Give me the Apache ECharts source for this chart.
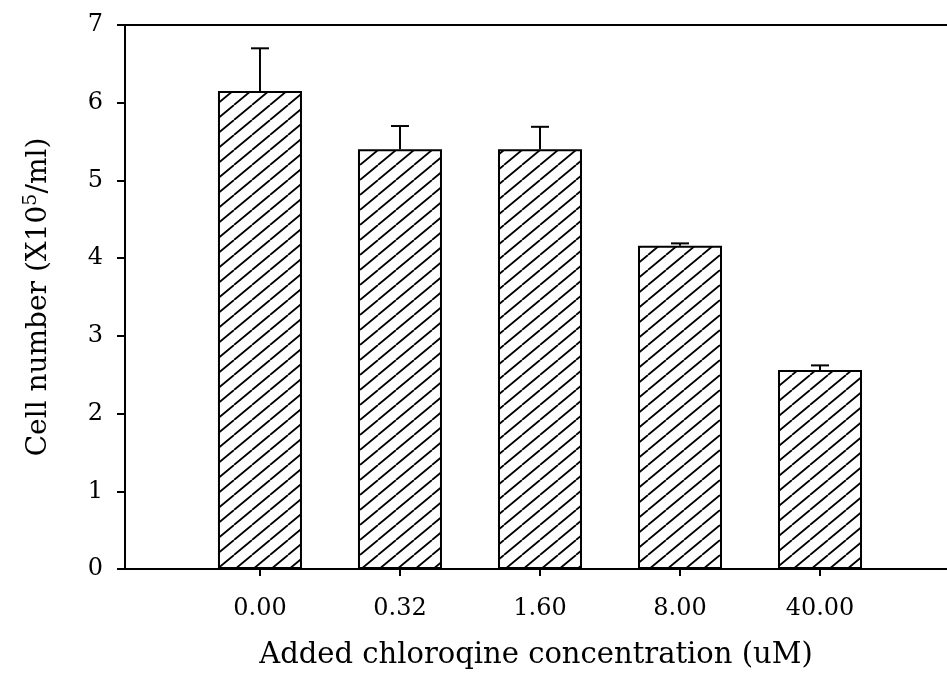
<!DOCTYPE html>
<html>
<head>
<meta charset="utf-8">
<script src="https://cdn.jsdelivr.net/npm/echarts@6/dist/echarts.min.js"></script>
<style>
  html, body { margin: 0; padding: 0; background: #fff; }
  #chart { width: 947px; height: 682px; }
</style>
</head>
<body>
<div id="chart"></div>
<script>
var categories = ['0.00', '0.32', '1.60', '8.00', '40.00'];
var positions = [1, 2, 3, 4, 5];
var cellNumber = [6.15, 5.40, 5.40, 4.16, 2.56];
var errorTop = [6.70, 5.70, 5.69, 4.19, 2.62];
var yTicks = [0, 1, 2, 3, 4, 5, 6, 7];

var FONT = 'DejaVu Serif';

// hatch tile: diagonal lines from lower left to upper right
var tile = document.createElement('canvas');
tile.width = 18;
tile.height = 15;
var ctx = tile.getContext('2d');
ctx.strokeStyle = '#000';
ctx.lineWidth = 1.8;
ctx.beginPath();
ctx.moveTo(-18, 15); ctx.lineTo(0, 0);
ctx.moveTo(0, 15); ctx.lineTo(18, 0);
ctx.moveTo(18, 15); ctx.lineTo(36, 0);
ctx.stroke();

var barData = positions.map(function (p, i) { return [p, cellNumber[i]]; });
var errData = positions.map(function (p, i) { return [p, cellNumber[i], errorTop[i]]; });

var chart = echarts.init(document.getElementById('chart'));
var option = {
    animation: false,
    backgroundColor: '#fff',
    grid: { left: 125, right: 0, top: 25, bottom: 113 },
    xAxis: [{
        type: 'value',
        min: 0.036,
        max: 5.907,
        position: 'bottom',
        splitLine: { show: false },
        axisLine: { lineStyle: { color: '#000', width: 2 } },
        axisTick: {
            customValues: positions,
            length: 7,
            lineStyle: { color: '#000', width: 2 }
        },
        axisLabel: {
            customValues: positions,
            formatter: function (v) { return categories[Math.round(v) - 1] || ''; },
            margin: 28,
            color: '#000',
            fontFamily: FONT,
            fontSize: 24
        },
        name: 'Added chloroqine concentration (uM)',
        nameLocation: 'middle',
        nameGap: 72,
        nameTextStyle: { color: '#000', fontFamily: FONT, fontSize: 29 }
    }, {
        type: 'value',
        min: 0.036,
        max: 5.907,
        position: 'top',
        splitLine: { show: false },
        axisLine: { show: true, lineStyle: { color: '#000', width: 2 } },
        axisTick: { show: false },
        axisLabel: { show: false }
    }],
    yAxis: {
        type: 'value',
        min: 0,
        max: 7,
        interval: 1,
        splitLine: { show: false },
        axisLine: { show: true, lineStyle: { color: '#000', width: 2 } },
        axisTick: { show: true, length: 8, lineStyle: { color: '#000', width: 2 } },
        axisLabel: {
            margin: 22,
            color: '#000',
            fontFamily: FONT,
            fontSize: 24,
            formatter: function (v) { return yTicks.indexOf(v) >= 0 ? String(v) : ''; }
        },
        name: '{n|Cell number (X10}{s|5}{n|/ml)}',
        nameLocation: 'middle',
        nameRotate: 90,
        nameGap: 70,
        nameTextStyle: {
            rich: {
                n: { color: '#000', fontFamily: FONT, fontSize: 28 },
                s: { color: '#000', fontFamily: FONT, fontSize: 19, verticalAlign: 'top', padding: [0, 0, 14, 0] }
            }
        }
    },
    series: [{
        type: 'bar',
        data: barData,
        barWidth: 84,
        itemStyle: {
            color: { image: tile, repeat: 'repeat' },
            borderColor: '#000',
            borderWidth: 2
        }
    }, {
        type: 'custom',
        data: errData,
        z: 1,
        renderItem: function (params, api) {
            var base = api.coord([api.value(0), api.value(1)]);
            var top = api.coord([api.value(0), api.value(2)]);
            var half = 9;
            var style = { stroke: '#000', lineWidth: 2 };
            return {
                type: 'group',
                children: [
                    { type: 'line', shape: { x1: base[0], y1: base[1], x2: top[0], y2: top[1] }, style: style },
                    { type: 'line', shape: { x1: top[0] - half, y1: top[1], x2: top[0] + half, y2: top[1] }, style: style }
                ]
            };
        }
    }]
};
chart.setOption(option);
</script>
</body>
</html>
